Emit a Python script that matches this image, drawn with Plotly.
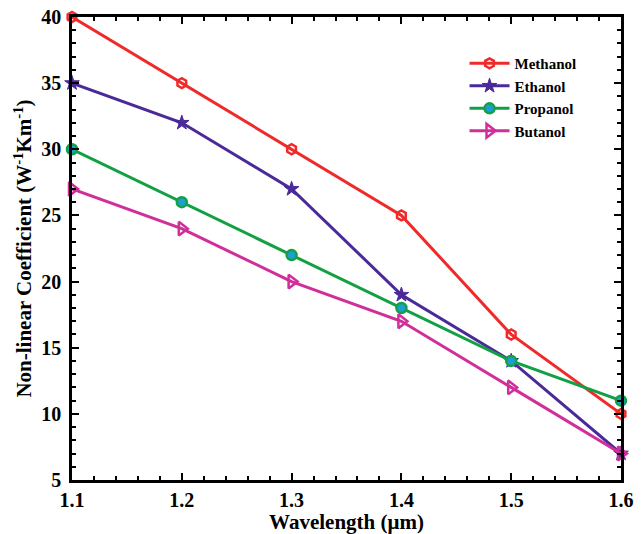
import plotly.graph_objects as go

wavelength = [1.1, 1.2, 1.3, 1.4, 1.5, 1.6]
methanol = [40, 35, 30, 25, 16, 10]
ethanol = [35, 32, 27, 19, 14, 7]
propanol = [30, 26, 22, 18, 14, 11]
butanol = [27, 24, 20, 17, 12, 7]

series = [
    ("Methanol", methanol, "#f02a2a", dict(symbol="hexagon-open", size=10, line=dict(width=2.5, color="#f02a2a"))),
    ("Ethanol", ethanol, "#4a2a98", dict(symbol="star", size=11, color="#4a2a98", line=dict(width=1, color="#4a2a98"))),
    ("Propanol", propanol, "#13a043", dict(symbol="circle", size=10, color="#1c9fd0", line=dict(width=2.5, color="#13a043"))),
    ("Butanol", butanol, "#d02f9a", dict(symbol="triangle-right-open", size=12, line=dict(width=2.5, color="#d02f9a"))),
]

fig = go.Figure()
for name, vals, col, mk in series:
    fig.add_trace(go.Scatter(
        x=wavelength, y=vals, name=name, mode="lines+markers",
        line=dict(color=col, width=3), marker=mk, cliponaxis=False,
    ))

font_family = "Liberation Serif, Times New Roman, serif"
fig.update_layout(
    width=636, height=526,
    margin=dict(l=64, r=23, t=9, b=54),
    paper_bgcolor="white", plot_bgcolor="white",
    font=dict(family=font_family, size=17, color="black"),
    showlegend=True,
    legend=dict(
        x=0.715, y=0.935, xanchor="left", yanchor="top",
        font=dict(family=font_family, size=15, color="black", weight="bold"),
        bgcolor="rgba(0,0,0,0)", tracegroupgap=0, itemwidth=40,
    ),
)
fig.update_xaxes(
    range=[1.1, 1.6], tickvals=[1.1, 1.2, 1.3, 1.4, 1.5, 1.6],
    ticktext=["1.1", "1.2", "1.3", "1.4", "1.5", "1.6"],
    ticks="inside", ticklen=7, tickwidth=2, tickcolor="black",
    minor=dict(dtick=0.02, ticks="inside", ticklen=4, tickwidth=1.5, tickcolor="black", showgrid=False),
    showline=True, linecolor="black", linewidth=2.5, mirror="ticks",
    showgrid=False, zeroline=False, automargin=False, ticklabeloverflow="allow",
    tickfont=dict(family=font_family, size=20, weight="bold"),
    title=dict(text="Wavelength (μm)", font=dict(family=font_family, size=21, weight="bold"), standoff=7),
)
fig.update_yaxes(
    range=[5, 40], tickvals=[5, 10, 15, 20, 25, 30, 35, 40],
    ticks="inside", ticklen=7, tickwidth=2, tickcolor="black",
    minor=dict(dtick=1, ticks="inside", ticklen=4, tickwidth=1.5, tickcolor="black", showgrid=False),
    showline=True, linecolor="black", linewidth=2.5, mirror="ticks",
    showgrid=False, zeroline=False, automargin=False, ticklabelstandoff=4,
    ticklabeloverflow="allow",
    tickfont=dict(family=font_family, size=20, weight="bold"),
    title=dict(text="Non-linear Coefficient (W<sup>-1</sup>Km<sup>-1</sup>)",
               font=dict(family=font_family, size=21, weight="bold"), standoff=4),
)

fig.write_html("out.html")
